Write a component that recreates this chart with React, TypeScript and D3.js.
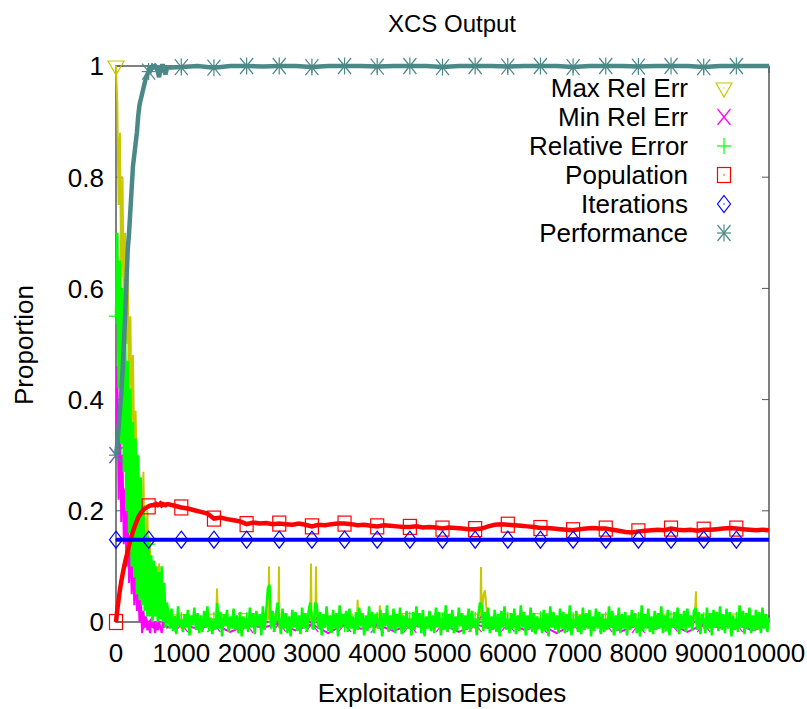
import React from "react";
import * as d3 from "d3";

const W = 807;
const H = 709;
const FONT = '"Liberation Sans", Arial, Helvetica, sans-serif';

const xTicks = [0, 1000, 2000, 3000, 4000, 5000, 6000, 7000, 8000, 9000, 10000];
const yTicks = [0, 0.2, 0.4, 0.6, 0.8, 1];
const yTickLabels = ["0", "0.2", "0.4", "0.6", "0.8", "1"];
const markerEpisodes = d3.range(0, 10000, 500);

// early section: episodes 0..780 step 20
const EARLY_STEP = 20;
const maxEarly = [1.0, 0.93, 0.75, 0.88, 0.62, 0.8, 0.55, 0.7, 0.5, 0.62, 0.42, 0.55, 0.36, 0.48, 0.3, 0.38, 0.25, 0.3, 0.18, 0.26, 0.14, 0.27, 0.1, 0.12, 0.2, 0.08, 0.15, 0.04, 0.1, 0.02, 0.06, 0.01, 0.03, 0.105, 0.01, 0.09, 0.005, 0.02, 0.005, 0.01];
const maxLate: [number, number][] = [[800, 0.01], [1000, 0.004], [1250, 0.006], [1500, 0.005], [1535, 0.006], [1547, 0.06], [1560, 0.006], [1750, 0.004], [2000, 0.006], [2250, 0.005], [2333, 0.005], [2343, 0.1], [2353, 0.006], [2486, 0.005], [2496, 0.1], [2500, 0.005], [2750, 0.006], [2976, 0.005], [2986, 0.105], [2996, 0.005], [3000, 0.005], [3053, 0.005], [3063, 0.1], [3073, 0.005], [3250, 0.006], [3500, 0.005], [3690, 0.005], [3700, 0.04], [3710, 0.005], [4000, 0.005], [4030, 0.005], [4040, 0.03], [4050, 0.005], [4250, 0.004], [4500, 0.006], [4750, 0.004], [5000, 0.005], [5250, 0.006], [5500, 0.005], [5580, 0.005], [5590, 0.099], [5600, 0.01], [5630, 0.05], [5650, 0.057], [5670, 0.03], [5690, 0.005], [5750, 0.006], [6000, 0.005], [6250, 0.005], [6500, 0.006], [6750, 0.005], [7000, 0.004], [7250, 0.006], [7500, 0.005], [7750, 0.005], [8000, 0.004], [8250, 0.006], [8500, 0.005], [8750, 0.005], [8860, 0.005], [8872, 0.03], [8882, 0.055], [8892, 0.005], [9000, 0.005], [9250, 0.006], [9500, 0.005], [9750, 0.005], [10000, 0.005]];

const minEarly = [0.3, 0.46, 0.22, 0.38, 0.18, 0.3, 0.14, 0.24, 0.1, 0.2, 0.07, 0.15, 0.05, 0.12, 0.03, 0.09, 0.02, 0.06, 0.0, 0.04, -0.02, 0.02, -0.01, 0.01, -0.015, 0.0, -0.02, 0.005, -0.01, 0.0, -0.02, 0.0, -0.015, 0.0, -0.01, -0.02, 0.0, -0.01, 0.0, -0.01];
// 1000..10000 step 250
const minLate = [-0.004, -0.012, -0.004, -0.018, -0.005, -0.01, -0.003, -0.015, -0.004, -0.02, -0.004, -0.012, -0.005, -0.016, -0.005, -0.01, -0.004, -0.018, -0.004, -0.012, -0.003, -0.014, -0.005, -0.02, -0.004, -0.01, -0.004, -0.016, -0.005, -0.012, -0.003, -0.018, -0.004, -0.01, -0.004, -0.015, -0.005];

const relEarly = [0.55, 0.7, 0.42, 0.65, 0.32, 0.6, 0.27, 0.52, 0.2, 0.47, 0.16, 0.42, 0.1, 0.36, 0.08, 0.33, 0.05, 0.3, 0.04, 0.26, 0.03, 0.21, 0.02, 0.16, 0.01, 0.14, 0.01, 0.12, 0.0, 0.11, 0.01, 0.1, 0.0, 0.09, 0.005, 0.1, 0.0, 0.07, -0.01, 0.035];
// 800..10000 step 25
const relLate = [
  0.018, -0.012, 0.024, -0.016, 0.01, -0.022, 0.028, -0.008, 0.003, -0.018, 0.014, -0.01, 0.022, -0.024, 0.012, -0.006, 0.026, -0.014, 0.016, -0.02,
  0.012, -0.018, 0.02, -0.01, 0.028, -0.016, 0.008, -0.022, 0.004, -0.014, 0.034, -0.012, 0.018, -0.026, 0.014, -0.008, 0.022, -0.018, 0.01, -0.012,
  0.024, -0.014, 0.012, -0.02, 0.018, -0.026, 0.01, -0.012, 0.003, -0.018, 0.026, -0.01, 0.016, -0.022, 0.02, -0.008, 0.014, -0.024, 0.028, -0.014,
  0.018, 0.06, 0.067, -0.012, 0.02, -0.018, 0.014, 0.035, 0.004, -0.022, 0.024, -0.012, 0.016, -0.02, 0.01, -0.026, 0.022, -0.01, 0.018, -0.016,
  0.012, -0.022, 0.026, -0.012, 0.016, -0.018, 0.02, 0.035, 0.004, -0.014, 0.035, 0.03, -0.012, 0.018, -0.024, 0.014, -0.01, 0.028, -0.016, 0.012,
  -0.02, 0.022, -0.012, 0.016, -0.026, 0.03, -0.01, 0.014, -0.004, 0.02, -0.018, 0.024, -0.012, 0.01, -0.022, 0.018, -0.014, 0.026, -0.008, 0.016,
  -0.024, 0.012, -0.016, 0.028, -0.01, 0.018, -0.02, 0.014, 0.004, -0.012, 0.022, -0.026, 0.016, -0.008, 0.03, -0.018, 0.012, -0.014, 0.024, -0.02,
  0.014, -0.01, 0.026, -0.022, 0.012, -0.016, 0.02, -0.012, 0.004, -0.024, 0.018, -0.014, 0.028, -0.01, 0.016, -0.02, 0.022, -0.026, 0.01, -0.012,
  0.02, -0.016, 0.012, -0.02, 0.026, -0.01, 0.018, -0.024, 0.003, -0.014, 0.03, -0.018, 0.014, -0.012, 0.022, -0.02, 0.01, -0.016, 0.026, -0.008,
  0.016, -0.022, 0.012, -0.014, 0.024, -0.018, 0.02, -0.01, 0.004, -0.024, 0.014, 0.035, 0.03, -0.016, 0.018, -0.012, 0.026, -0.02, 0.01, -0.014,
  0.022, -0.018, 0.014, -0.026, 0.02, -0.01, 0.028, -0.014, 0.004, -0.02, 0.016, -0.012, 0.024, -0.022, 0.012, -0.016, 0.03, -0.01, 0.018, -0.024,
  0.012, -0.014, 0.026, -0.018, 0.016, -0.022, 0.01, -0.012, 0.005, -0.02, 0.022, -0.016, 0.014, -0.026, 0.028, -0.01, 0.018, -0.014, 0.012, -0.02,
  0.024, -0.012, 0.018, -0.02, 0.014, -0.016, 0.03, -0.024, 0.003, -0.01, 0.02, -0.018, 0.012, -0.022, 0.026, -0.014, 0.016, -0.012, 0.022, -0.026,
  0.01, -0.016, 0.024, -0.012, 0.018, -0.022, 0.014, -0.018, 0.004, -0.014, 0.028, -0.01, 0.02, -0.024, 0.012, -0.016, 0.026, -0.02, 0.014, -0.012,
  0.018, -0.024, 0.012, -0.014, 0.022, -0.01, 0.016, -0.02, 0.004, -0.026, 0.03, -0.016, 0.014, -0.012, 0.024, -0.018, 0.01, -0.022, 0.02, -0.014,
  0.016, -0.012, 0.028, -0.02, 0.012, -0.016, 0.022, -0.024, 0.005, -0.01, 0.018, -0.014, 0.026, -0.022, 0.014, -0.012, 0.02, -0.018, 0.024, -0.01,
  0.012, -0.016, 0.02, 0.025, -0.014, 0.018, -0.022, 0.014, 0.003, -0.02, 0.026, -0.012, 0.016, -0.024, 0.022, -0.01, 0.018, -0.016, 0.028, -0.014,
  0.014, -0.02, 0.024, -0.012, 0.018, -0.026, 0.012, -0.014, 0.004, -0.018, 0.03, -0.01, 0.02, -0.022, 0.016, -0.012, 0.026, -0.02, 0.012, -0.016,
  0.022, -0.014, 0.018, -0.02, 0.026, -0.012, 0.014, -0.018, 0.008,
];

const popEarly = [0, 0.022, 0.04, 0.057, 0.072, 0.085, 0.097, 0.108, 0.118, 0.128, 0.138, 0.147, 0.155, 0.163, 0.17, 0.176, 0.182, 0.188, 0.192, 0.196, 0.199, 0.202, 0.204, 0.205, 0.207, 0.208, 0.209, 0.21, 0.21, 0.211, 0.21, 0.212, 0.21, 0.211, 0.213, 0.21, 0.212, 0.211, 0.21, 0.212];
// 800..10000 step 100
const popLate = [
  0.212, 0.209, 0.206, 0.204, 0.201, 0.198, 0.195, 0.186, 0.188, 0.185,
  0.183, 0.181, 0.176, 0.179, 0.177, 0.178, 0.176, 0.177, 0.176, 0.175,
  0.177, 0.175, 0.172, 0.175, 0.174, 0.176, 0.177, 0.177, 0.176, 0.174,
  0.175, 0.173, 0.172, 0.174, 0.173, 0.172, 0.171, 0.171, 0.172, 0.17,
  0.171, 0.17, 0.168, 0.17, 0.169, 0.168, 0.167, 0.167, 0.168, 0.172,
  0.175, 0.176, 0.175, 0.174, 0.173, 0.172, 0.171, 0.169, 0.169, 0.168,
  0.167, 0.166, 0.165, 0.167, 0.168, 0.169, 0.168, 0.168, 0.166, 0.164,
  0.162, 0.161, 0.163, 0.164, 0.165, 0.166, 0.165, 0.168, 0.166, 0.165,
  0.166, 0.164, 0.166, 0.166, 0.167, 0.168, 0.169, 0.168, 0.167, 0.166,
  0.165, 0.166, 0.165,
];

// 0..10000 step 500
const iterVals = [0.148, 0.148, 0.148, 0.148, 0.148, 0.148, 0.148, 0.148, 0.148, 0.148, 0.148, 0.148, 0.148, 0.148, 0.148, 0.148, 0.148, 0.148, 0.148, 0.148, 0.148];

const perfEarly = [0.3, 0.32, 0.35, 0.38, 0.41, 0.45, 0.5, 0.55, 0.61, 0.67, 0.7, 0.74, 0.78, 0.82, 0.84, 0.86, 0.88, 0.91, 0.93, 0.94, 0.95, 0.96, 0.97, 0.98, 0.985, 0.99, 1.0, 0.995, 1.0, 0.998, 1.0, 0.997, 0.99, 0.98, 0.995, 1.0, 1.0, 0.99, 0.985, 0.997];
// 1000..10000 step 250
const perfLate = [0.998, 1.0, 0.997, 1.0, 1.0, 0.999, 1.0, 1.0, 0.998, 1.0, 1.0, 1.0, 0.999, 1.0, 1.0, 1.0, 0.998, 1.0, 1.0, 1.0, 0.999, 1.0, 1.0, 1.0, 0.998, 1.0, 1.0, 1.0, 0.999, 1.0, 1.0, 1.0, 0.998, 1.0, 1.0, 1.0, 1.0];

const legendNames = ["Max Rel Err", "Min Rel Err", "Relative Error", "Population", "Iterations", "Performance"];

type Pt = [number, number];
const seq = (start: number, step: number, vals: number[]): Pt[] => vals.map((v, i) => [start + i * step, v] as Pt);

const series: { name: string; color: string; width: number; marker: string; data: Pt[] }[] = [
  { name: legendNames[0], color: "#c8c800", width: 2, marker: "tri", data: [...seq(0, EARLY_STEP, maxEarly), ...maxLate] },
  { name: legendNames[1], color: "#ff00ff", width: 2, marker: "x", data: [...seq(0, EARLY_STEP, minEarly), ...seq(1000, 250, minLate)] },
  { name: legendNames[2], color: "#00ff00", width: 2.5, marker: "plus", data: [...seq(0, EARLY_STEP, relEarly), ...seq(800, 25, relLate)] },
  { name: legendNames[3], color: "#ff0000", width: 4.5, marker: "square", data: [...seq(0, EARLY_STEP, popEarly), ...seq(800, 100, popLate)] },
  { name: legendNames[4], color: "#0000ff", width: 4, marker: "diamond", data: seq(0, 500, iterVals) },
  { name: legendNames[5], color: "#4b8989", width: 4.5, marker: "star", data: [...seq(0, EARLY_STEP, perfEarly), ...seq(1000, 250, perfLate)] },
];

const x = d3.scaleLinear().domain([0, 10000]).range([116, 769]);
const y = d3.scaleLinear().domain([0, 1]).range([622, 66]);
const line = d3.line<Pt>().x((d) => x(d[0])).y((d) => y(d[1]));

function valueAt(data: Pt[], ep: number): number {
  const exact = data.find((d) => d[0] === ep);
  if (exact) return exact[1];
  let best = data[0];
  for (const d of data) if (Math.abs(d[0] - ep) < Math.abs(best[0] - ep)) best = d;
  return best[1];
}

function Marker({ kind, cx, cy, color }: { kind: string; cx: number; cy: number; color: string }) {
  const common = { fill: "none", stroke: color, strokeWidth: 1.2 };
  const dot = <circle cx={cx} cy={cy} r={0.7} fill={color} />;
  switch (kind) {
    case "tri":
      return (
        <g>
          <polygon points={`${cx - 8},${cy - 5} ${cx + 8},${cy - 5} ${cx},${cy + 9}`} {...common} />
          {dot}
        </g>
      );
    case "x":
      return (
        <g {...common}>
          <line x1={cx - 6.5} y1={cy - 8} x2={cx + 6.5} y2={cy + 8} />
          <line x1={cx - 6.5} y1={cy + 8} x2={cx + 6.5} y2={cy - 8} />
        </g>
      );
    case "plus":
      return (
        <g {...common}>
          <line x1={cx - 7} y1={cy} x2={cx + 7} y2={cy} />
          <line x1={cx} y1={cy - 8} x2={cx} y2={cy + 8} />
        </g>
      );
    case "square":
      return (
        <g>
          <rect x={cx - 6.5} y={cy - 7.5} width={13} height={15} {...common} />
          {dot}
        </g>
      );
    case "diamond":
      return (
        <g>
          <polygon points={`${cx},${cy - 8.5} ${cx + 6.5},${cy} ${cx},${cy + 8.5} ${cx - 6.5},${cy}`} {...common} />
          {dot}
        </g>
      );
    default:
      return (
        <g {...common}>
          <line x1={cx - 7} y1={cy} x2={cx + 7} y2={cy} />
          <line x1={cx} y1={cy - 8.5} x2={cx} y2={cy + 8.5} />
          <line x1={cx - 6.5} y1={cy - 8} x2={cx + 6.5} y2={cy + 8} />
          <line x1={cx - 6.5} y1={cy + 8} x2={cx + 6.5} y2={cy - 8} />
        </g>
      );
  }
}

export default function App() {
  const [x0, x1] = x.range();
  const [y0, y1] = y.range();
  return (
    <svg width={W} height={H} style={{ position: "fixed", left: 0, top: 0, background: "#fff" }} fontFamily={FONT}>
      <rect width={W} height={H} fill="#fff" />
      <text x={452} y={32} fontSize={24} textAnchor="middle">XCS Output</text>
      <rect x={x0} y={y1} width={x1 - x0} height={y0 - y1} fill="none" stroke="#000" strokeWidth={1} />
      {yTicks.map((t, i) => (
        <g key={"y" + t}>
          <line x1={x0} x2={x0 + 7} y1={y(t)} y2={y(t)} stroke="#555" />
          <line x1={x1} x2={x1 - 7} y1={y(t)} y2={y(t)} stroke="#555" />
          <text x={104} y={y(t)} dy="0.36em" fontSize={26} textAnchor="end">{yTickLabels[i]}</text>
        </g>
      ))}
      {xTicks.map((t) => (
        <g key={"x" + t}>
          <line x1={x(t)} x2={x(t)} y1={y0} y2={y0 - 7} stroke="#555" />
          <line x1={x(t)} x2={x(t)} y1={y1} y2={y1 + 7} stroke="#555" />
          <text x={x(t)} y={662} fontSize={26} textAnchor="middle">{String(t)}</text>
        </g>
      ))}
      <text transform="translate(33,345) rotate(-90)" fontSize={26} textAnchor="middle">Proportion</text>
      <text x={442} y={702} fontSize={26} textAnchor="middle">Exploitation Episodes</text>

      {series.map((s) => (
        <g key={s.name}>
          <path d={line(s.data) || ""} fill="none" stroke={s.color} strokeWidth={s.width} strokeLinejoin="miter" strokeMiterlimit={3} />
          {markerEpisodes.map((ep) => (
            <Marker key={ep} kind={s.marker} cx={x(ep)} cy={y(valueAt(s.data, ep))} color={s.color} />
          ))}
        </g>
      ))}

      {series.map((s, i) => {
        const cy = 88 + 29 * i;
        return (
          <g key={"leg" + s.name}>
            <text x={688} y={cy} dy="0.36em" fontSize={26} textAnchor="end">{s.name}</text>
            <Marker kind={s.marker} cx={724} cy={cy} color={s.color} />
          </g>
        );
      })}
    </svg>
  );
}
